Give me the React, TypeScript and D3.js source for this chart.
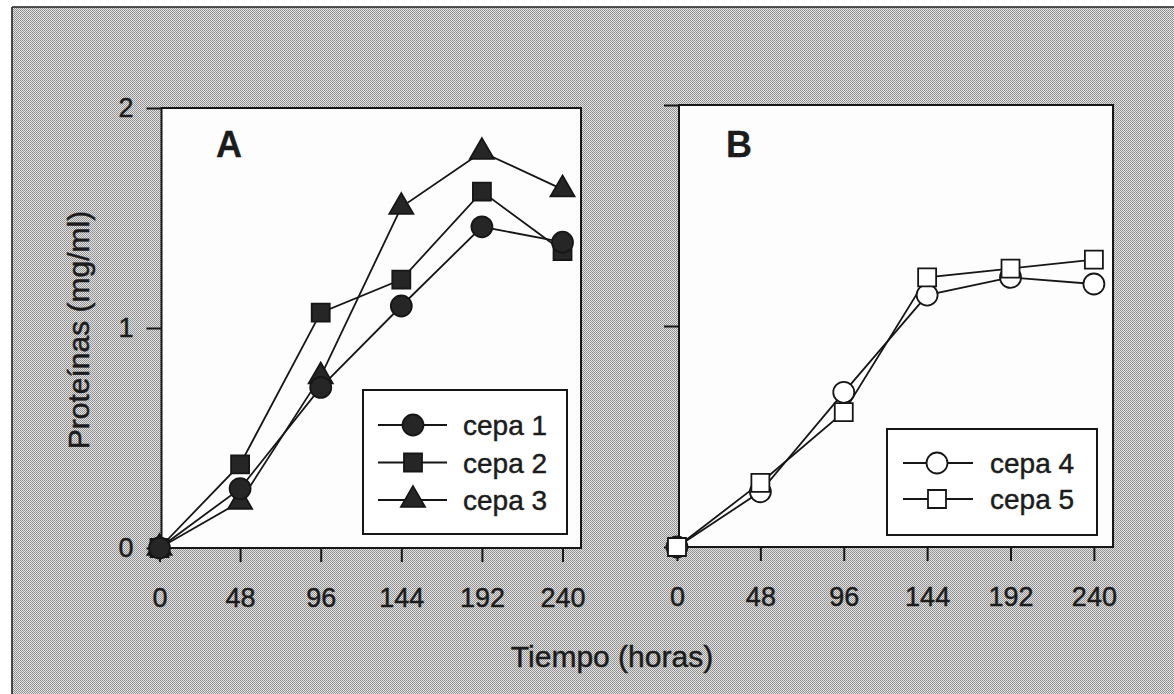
import React, { useEffect, useRef } from "react";
import * as d3 from "d3";

const hours = [0, 48, 96, 144, 192, 240];
const cepa1 = [0, 0.27, 0.73, 1.1, 1.46, 1.39];
const cepa2 = [0, 0.38, 1.07, 1.22, 1.62, 1.35];
const cepa3 = [0, 0.21, 0.78, 1.55, 1.8, 1.63];
const cepa4 = [0, 0.25, 0.7, 1.14, 1.22, 1.19];
const cepa5 = [0, 0.29, 0.61, 1.22, 1.26, 1.3];
const yTicks = [0, 1, 2];
const xTitle = "Tiempo (horas)";
const yTitle = "Proteínas (mg/ml)";

type Series = { name: string; values: number[]; shape: "circle" | "square" | "triangle"; filled: boolean };

const panelA: Series[] = [
  { name: "cepa 1", values: cepa1, shape: "circle", filled: true },
  { name: "cepa 2", values: cepa2, shape: "square", filled: true },
  { name: "cepa 3", values: cepa3, shape: "triangle", filled: true },
];
const panelB: Series[] = [
  { name: "cepa 4", values: cepa4, shape: "circle", filled: false },
  { name: "cepa 5", values: cepa5, shape: "square", filled: false },
];

const FONT = "'Liberation Sans', Arial, Helvetica, sans-serif";
const INK = "#161616";

function styleText(sel: any, size: number) {
  sel
    .attr("font-family", FONT)
    .attr("font-size", size)
    .attr("fill", "#1c1c1c")
    .attr("stroke", "#1c1c1c")
    .attr("stroke-width", 0.45);
}

function drawMarker(g: any, shape: string, filled: boolean, x: number, y: number) {
  const fill = filled ? "#262626" : "#ffffff";
  let sym: any;
  if (shape === "circle") sym = d3.symbol(d3.symbolCircle, Math.PI * 10.5 * 10.5);
  else if (shape === "square") sym = d3.symbol(d3.symbolSquare, 18 * 18);
  else sym = d3.symbol(d3.symbolTriangle, 250);
  g.append("path")
    .attr("d", sym())
    .attr("transform", `translate(${x},${y})`)
    .attr("fill", fill)
    .attr("stroke", INK)
    .attr("stroke-width", 1.8);
}

export default function App() {
  const ref = useRef<SVGSVGElement>(null);

  useEffect(() => {
    const svg = d3.select(ref.current);
    svg.selectAll("*").remove();

    const defs = svg.append("defs");
    const pat = defs
      .append("pattern")
      .attr("id", "halftone")
      .attr("width", 2)
      .attr("height", 2)
      .attr("patternUnits", "userSpaceOnUse");
    pat.append("rect").attr("width", 2).attr("height", 2).attr("fill", "#e4e4e4");
    pat.append("rect").attr("x", 0).attr("y", 0).attr("width", 1).attr("height", 1).attr("fill", "#8c8c8c");
    pat.append("rect").attr("x", 1).attr("y", 1).attr("width", 1).attr("height", 1).attr("fill", "#969696");

    svg.append("rect").attr("width", 1174).attr("height", 694).attr("fill", "#ffffff");
    svg.append("rect").attr("x", 12).attr("y", 7).attr("width", 1162).attr("height", 687).attr("fill", "url(#halftone)");
    svg.append("line").attr("x1", 12).attr("y1", 7).attr("x2", 1174).attr("y2", 7).attr("stroke", "#222").attr("stroke-width", 1.6);
    svg.append("line").attr("x1", 12).attr("y1", 7).attr("x2", 12).attr("y2", 694).attr("stroke", "#222").attr("stroke-width", 1.6);

    const panels = [
      {
        series: panelA,
        markerOrder: [...panelA].reverse(),
        xr: [159.5, 581],
        yr: [548, 108],
        label: "A",
        labelX: 216,
        showY: true,
        legend: { x0: 363, y0: 390, x1: 567, y1: 534, lx0: 378, lx1: 447, mx: 413, tx: 463, rows: [425, 462.5, 500] },
      },
      {
        series: panelB,
        markerOrder: panelB,
        xr: [677, 1113],
        yr: [547, 105],
        label: "B",
        labelX: 726,
        showY: false,
        legend: { x0: 887, y0: 429, x1: 1097, y1: 535, lx0: 903, lx1: 973, mx: 937, tx: 990, rows: [463, 499] },
      },
    ];

    panels.forEach((p) => {
      const x = d3.scaleLinear().domain([0, 251]).range(p.xr);
      const y = d3.scaleLinear().domain([0, 2]).range(p.yr);
      const g = svg.append("g");

      g.append("rect")
        .attr("x", x(0) + 2)
        .attr("y", y(2))
        .attr("width", x(251) - x(0) - 2)
        .attr("height", y(0) - y(2))
        .attr("fill", "#fdfdfd")
        .attr("stroke", INK)
        .attr("stroke-width", 2);

      const yAxis = d3
        .axisLeft(y)
        .tickValues(yTicks)
        .tickSize(15)
        .tickPadding(13)
        .tickFormat((d: any) => (p.showY ? String(d) : ""));
      const ya = g.append("g").attr("transform", `translate(${x(0) + 2},0)`).call(yAxis);
      ya.select(".domain").remove();
      ya.selectAll("line").attr("stroke", INK).attr("stroke-width", 2);
      styleText(ya.selectAll("text"), 27);

      const xAxis = d3.axisBottom(x).tickValues(hours).tickSize(14).tickPadding(26).tickFormat((d: any) => String(d));
      const xa = g.append("g").attr("transform", `translate(0,${y(0)})`).call(xAxis);
      xa.select(".domain").remove();
      xa.selectAll("line").attr("stroke", INK).attr("stroke-width", 2);
      styleText(xa.selectAll("text"), 27);

      const lab = g.append("text")
        .attr("x", p.labelX)
        .attr("y", 157)
        .text(p.label);
      styleText(lab, 36);
      lab.attr("font-weight", "bold").attr("stroke-width", 0.3);

      const line = d3
        .line<number>()
        .x((_, i) => x(hours[i]))
        .y((d) => y(d));

      p.series.forEach((s) => {
        g.append("path")
          .attr("d", line(s.values))
          .attr("fill", "none")
          .attr("stroke", INK)
          .attr("stroke-width", 1.8);
      });
      p.markerOrder.forEach((s) => {
        s.values.forEach((v, i) => drawMarker(g, s.shape, s.filled, x(hours[i]), y(v)));
      });

      const L = p.legend;
      g.append("rect")
        .attr("x", L.x0)
        .attr("y", L.y0)
        .attr("width", L.x1 - L.x0)
        .attr("height", L.y1 - L.y0)
        .attr("fill", "#ffffff")
        .attr("stroke", INK)
        .attr("stroke-width", 2);
      p.series.forEach((s, i) => {
        const ry = L.rows[i];
        g.append("line").attr("x1", L.lx0).attr("x2", L.lx1).attr("y1", ry).attr("y2", ry).attr("stroke", INK).attr("stroke-width", 1.8);
        drawMarker(g, s.shape, s.filled, L.mx, ry);
        const t = g.append("text")
          .attr("x", L.tx)
          .attr("y", ry)
          .attr("dy", "0.36em")
          .text(s.name);
        styleText(t, 28);
      });
    });

    const xt = svg.append("text")
      .attr("x", 612)
      .attr("y", 667)
      .attr("text-anchor", "middle")
      .text(xTitle);
    styleText(xt, 30);

    const yt = svg.append("text")
      .attr("transform", "translate(89,330) rotate(-90)")
      .attr("text-anchor", "middle")
      .text(yTitle);
    styleText(yt, 30);
  }, []);

  return (
    <svg
      ref={ref}
      width={1174}
      height={694}
      style={{ position: "absolute", left: 0, top: 0, display: "block" }}
    />
  );
}
